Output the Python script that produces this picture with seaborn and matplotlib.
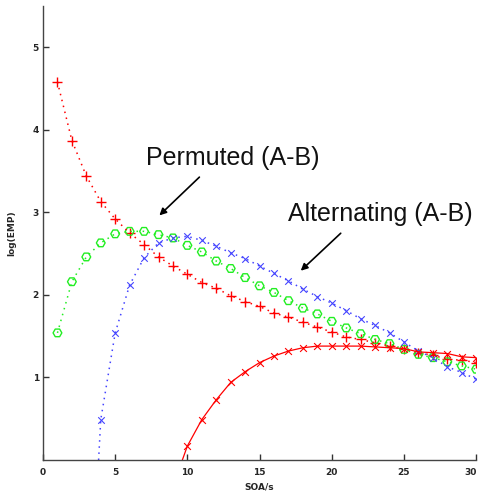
import numpy as np
import pandas as pd
import seaborn as sns
import matplotlib.pyplot as plt
from matplotlib.transforms import ScaledTranslation

# SOA values (s)
soa = list(range(1, 31))

# permuted (A-B), red plus
permuted = [4.58, 3.87, 3.44, 3.13, 2.92, 2.75, 2.61, 2.46, 2.35, 2.25,
            2.15, 2.08, 1.99, 1.92, 1.86, 1.78, 1.73, 1.67, 1.61, 1.55,
            1.49, 1.46, 1.42, 1.38, 1.34, 1.30, 1.27, 1.22, 1.21, 1.18]

# green circles
green_vals = [1.54, 2.16, 2.46, 2.63, 2.74, 2.77, 2.77, 2.73, 2.69, 2.60,
              2.52, 2.41, 2.32, 2.21, 2.11, 2.03, 1.93, 1.84, 1.77, 1.68,
              1.60, 1.53, 1.46, 1.41, 1.34, 1.28, 1.24, 1.19, 1.14, 1.10]

# alternating (A-B), blue crosses (starts at SOA 4)
alt_soa = list(range(4, 31))
alternating = [0.49, 1.54, 2.12, 2.45, 2.63, 2.69, 2.71, 2.66, 2.59, 2.51,
               2.44, 2.35, 2.26, 2.17, 2.07, 1.98, 1.90, 1.81, 1.71, 1.63,
               1.54, 1.43, 1.32, 1.24, 1.13, 1.06, 0.98]
alt_start = (3.85, 0.0)

# solid red curve with x markers (starts at SOA 10)
solid_soa = list(range(10, 31))
solid_vals = [0.17, 0.49, 0.73, 0.94, 1.07, 1.18, 1.26, 1.32, 1.36, 1.38,
              1.38, 1.38, 1.38, 1.37, 1.36, 1.35, 1.31, 1.30, 1.29, 1.25, 1.24]
solid_start = (9.65, 0.0)

x_ticks = [0, 5, 10, 15, 20, 25, 30]
y_ticks = [1, 2, 3, 4, 5]

sns.set_theme(style='white')
plt.rcParams['font.family'] = ['Liberation Sans', 'DejaVu Sans']

fig, ax = plt.subplots(figsize=(4.8, 4.97), dpi=100)
fig.subplots_adjust(left=0.0896, right=0.992, bottom=0.0744, top=0.988)

red = '#ff0000'
green = '#22ee22'
blue = '#4444ff'
dots = (0, (1, 3))

# dotted fit lines
sns.lineplot(x=soa, y=permuted, ax=ax, color=red, linestyle=dots, lw=1.1)
sns.lineplot(x=soa, y=green_vals, ax=ax, color=green, linestyle=dots, lw=1.1)
sns.lineplot(x=[alt_start[0]] + alt_soa, y=[alt_start[1]] + alternating,
             ax=ax, color=blue, linestyle=dots, lw=1.1)
sns.lineplot(x=[solid_start[0]] + solid_soa, y=[solid_start[1]] + solid_vals,
             ax=ax, color=red, linestyle='-', lw=0.9)

# markers
sns.scatterplot(x=soa, y=permuted, ax=ax, marker='+', color=red, s=50, linewidth=1.0)
sns.scatterplot(x=soa, y=green_vals, ax=ax, marker='H', s=40,
                facecolor='none', edgecolor=green, linewidth=1.0)
sns.scatterplot(x=alt_soa, y=alternating, ax=ax, marker='x', color=blue, s=22, linewidth=0.8)
sns.scatterplot(x=solid_soa, y=solid_vals, ax=ax, marker='x', color=red, s=24, linewidth=0.8)

ax.set_xlim(0, 30)
ax.set_ylim(0, 5.5)
ax.set_xticks(x_ticks)
ax.set_yticks(y_ticks)
ax.set_xticklabels([str(t) for t in x_ticks], fontsize=6.5, fontweight='bold', family='DejaVu Sans')
ax.set_yticklabels([str(t) for t in y_ticks], fontsize=6.5, fontweight='bold', family='DejaVu Sans')
ax.tick_params(direction='in', length=4, width=1, color='#333333', pad=6)
ax.tick_params(axis='y', pad=3)
ax.tick_params(bottom=True, left=True)

# nudge the last x label so it stays inside the figure
last = ax.get_xticklabels()[-1]
last.set_transform(last.get_transform() + ScaledTranslation(-4 / 72, 0, fig.dpi_scale_trans))

for side in ['top', 'right']:
    ax.spines[side].set_visible(False)
for side in ['left', 'bottom']:
    ax.spines[side].set_color('#444444')
    ax.spines[side].set_linewidth(1.0)

ax.set_xlabel('SOA/s', fontsize=6.5, fontweight='bold', family='DejaVu Sans', labelpad=4)
ax.set_ylabel('log(EMP)', fontsize=6.5, fontweight='bold', family='DejaVu Sans', labelpad=12)

# annotations
ax.text(13.16, 3.57, 'Permuted (A-B)', fontsize=18, ha='center', va='baseline', color='#111111')
ax.annotate('', xy=(7.92, 2.94), xytext=(10.97, 3.45),
            arrowprops=dict(arrowstyle='-|>', color='black', lw=1.2, mutation_scale=10))
ax.text(23.37, 2.89, 'Alternating (A-B)', fontsize=18, ha='center', va='baseline', color='#111111')
ax.annotate('', xy=(17.71, 2.27), xytext=(20.76, 2.77),
            arrowprops=dict(arrowstyle='-|>', color='black', lw=1.2, mutation_scale=10))

ax.grid(False)
fig.savefig('out.png', dpi=100)
